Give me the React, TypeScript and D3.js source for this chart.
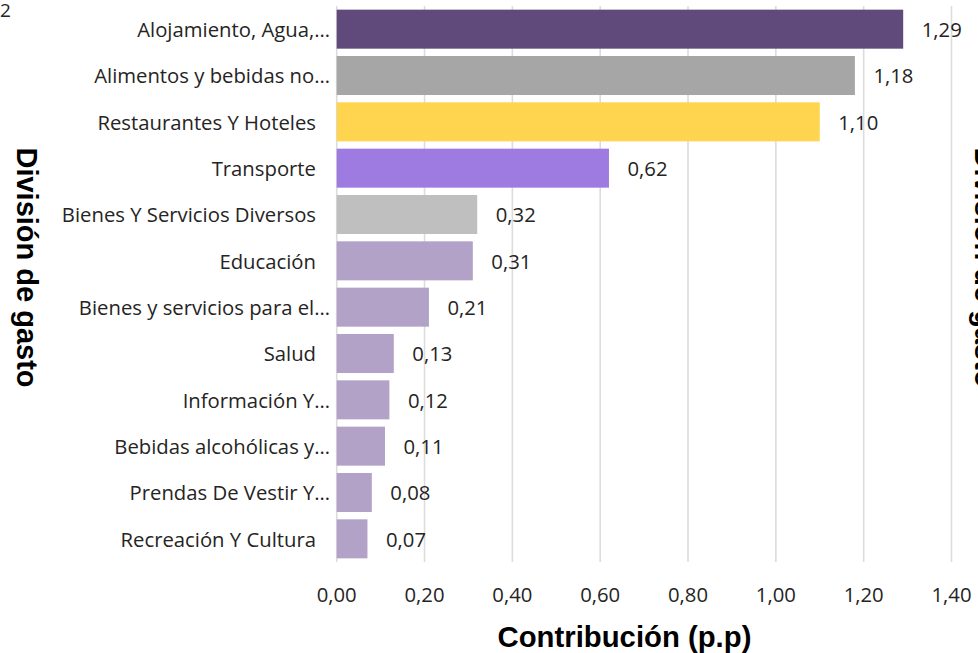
import React from "react";
import * as d3 from "d3";

const categories = [
  "Alojamiento, Agua,…",
  "Alimentos y bebidas no…",
  "Restaurantes Y Hoteles",
  "Transporte",
  "Bienes Y Servicios Diversos",
  "Educación",
  "Bienes y servicios para el…",
  "Salud",
  "Información Y…",
  "Bebidas alcohólicas y…",
  "Prendas De Vestir Y…",
  "Recreación Y Cultura",
];
const values = [1.29, 1.18, 1.1, 0.62, 0.32, 0.31, 0.21, 0.13, 0.12, 0.11, 0.08, 0.07];
const barColors = [
  "#604A7B",
  "#A6A6A6",
  "#FFD54F",
  "#9E7BE1",
  "#BFBFBF",
  "#B3A2C7",
  "#B3A2C7",
  "#B3A2C7",
  "#B3A2C7",
  "#B3A2C7",
  "#B3A2C7",
  "#B3A2C7",
];
const xTicks = [0, 0.2, 0.4, 0.6, 0.8, 1.0, 1.2, 1.4];
const xTitle = "Contribución (p.p)";
const yTitle = "División de gasto";

const W = 978;
const H = 653;
const BODY = "'Open Sans', 'Noto Sans', sans-serif";
const TITLE = "'Liberation Sans', Arial, sans-serif";
const FS = 20.3;

const fmt = (v: number) => d3.format(".2f")(v).replace(".", ",");

export default function App() {
  const x = d3.scaleLinear().domain([0, 1.4]).range([336.7, 951.5]);
  const y = d3
    .scaleBand<string>()
    .domain(categories)
    .range([6, 562])
    .paddingInner(0.158)
    .paddingOuter(0.079);
  const bw = y.bandwidth();

  return (
    <svg
      width={W}
      height={H}
      style={{ position: "absolute", left: 0, top: 0, background: "#fff" }}
    >
      <text x={0} y={16.5} fontFamily={BODY} fontSize={19} fill="#252423">
        2
      </text>
      {xTicks.map((t) => (
        <line
          key={"g" + t}
          x1={x(t)}
          x2={x(t)}
          y1={6}
          y2={562}
          stroke="#DCDCDC"
          strokeWidth={1.6}
        />
      ))}
      {categories.map((c, i) => {
        const y0 = y(c)!;
        const truncated = c.endsWith("…");
        return (
          <g key={c}>
            <rect x={x(0)} y={y0} width={x(values[i]) - x(0)} height={bw} fill={barColors[i]} />
            <text
              x={truncated ? 330 : 316}
              y={y0 + bw / 2 + 7.7}
              textAnchor="end"
              fontFamily={BODY}
              fontSize={FS}
              fill="#252423"
            >
              {c}
            </text>
            <text
              x={x(values[i]) + 18.5}
              y={y0 + bw / 2 + 7.7}
              fontFamily={BODY}
              fontSize={FS}
              fill="#252423"
            >
              {fmt(values[i])}
            </text>
          </g>
        );
      })}
      {xTicks.map((t) => (
        <text
          key={"t" + t}
          x={x(t)}
          y={601.5}
          textAnchor="middle"
          fontFamily={BODY}
          fontSize={FS}
          fill="#252423"
        >
          {fmt(t)}
        </text>
      ))}
      <text
        x={624.5}
        y={646.5}
        textAnchor="middle"
        fontFamily={TITLE}
        fontWeight="bold"
        fontSize={29.3}
        fill="#000"
      >
        {xTitle}
      </text>
      <text
        transform={`translate(17,267.5) rotate(90)`}
        textAnchor="middle"
        fontFamily={TITLE}
        fontWeight="bold"
        fontSize={29}
        fill="#000"
      >
        {yTitle}
      </text>
      <text
        transform={`translate(975,267.5) rotate(90)`}
        textAnchor="middle"
        fontFamily={TITLE}
        fontWeight="bold"
        fontSize={29}
        fill="#000"
      >
        {yTitle}
      </text>
    </svg>
  );
}
